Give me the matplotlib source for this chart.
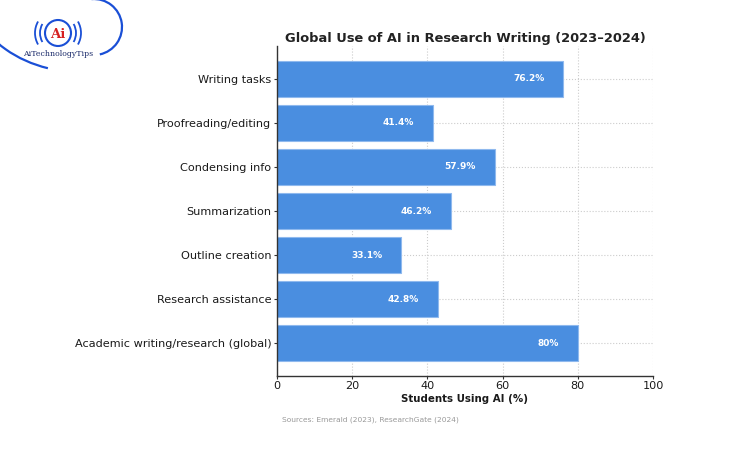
import matplotlib
matplotlib.use("Agg")
import matplotlib.pyplot as plt
from matplotlib.patches import Circle, Arc

categories = ["Writing tasks", "Proofreading/editing", "Condensing info",
              "Summarization", "Outline creation", "Research assistance",
              "Academic writing/research (global)"]
values = [76.2, 41.4, 57.9, 46.2, 33.1, 42.8, 80]
labels = ["76.2%", "41.4%", "57.9%", "46.2%", "33.1%", "42.8%", "80%"]
xticks = [0, 20, 40, 60, 80, 100]

fig = plt.figure(figsize=(7.4, 4.55), dpi=100)
ax = fig.add_axes([0.3743, 0.1745, 0.5081, 0.7235])

ypos = list(range(len(categories)))[::-1]
ax.barh(ypos, values, height=0.8, color="#4a8ee0", edgecolor="#8fb9ee", linewidth=0.8, zorder=2)
for y, v, t in zip(ypos, values, labels):
    ax.text(v - 5, y, t, ha="right", va="center", color="white",
            fontsize=6.5, fontweight="bold", zorder=3)

ax.set_yticks(ypos)
ax.set_yticklabels(categories, fontsize=8.1, color="#1a1a1a")
ax.set_xticks(xticks)
ax.set_xticklabels([str(x) for x in xticks], fontsize=8.1, color="#1a1a1a")
ax.set_xlim(0, 100)
ax.set_ylim(-0.74, 6.74)
ax.grid(True, linestyle=":", color="#cccccc", linewidth=0.8, zorder=0)
ax.set_axisbelow(True)
for s in ["top", "right"]:
    ax.spines[s].set_visible(False)
for s in ["left", "bottom"]:
    ax.spines[s].set_color("#333333")
    ax.spines[s].set_linewidth(1.0)
ax.tick_params(axis="both", colors="#333333", length=2.5, pad=1.5, labelcolor="#1a1a1a")
ax.set_xlabel("Students Using AI (%)", fontsize=7.4, fontweight="bold", color="#1a1a1a", labelpad=2)
ax.set_title("Global Use of AI in Research Writing (2023\u20132024)", fontsize=9.4,
             fontweight="bold", color="#222222", pad=3)

fig.text(282 / 740, 1 - 420 / 455, "Sources: Emerald (2023), ResearchGate (2024)",
         fontsize=5.4, color="#999999", ha="left", va="center")

# logo
lax = fig.add_axes([0, 0, 1, 1], facecolor="none")
lax.set_xlim(0, 740)
lax.set_ylim(455, 0)
lax.axis("off")
blue = "#1a4fd6"
lax.add_patch(Arc((94, 27), 56, 56, theta1=-95, theta2=78, edgecolor=blue, linewidth=1.6))
lax.add_patch(Arc((80, -20), 226, 184, theta1=110, theta2=160, edgecolor=blue, linewidth=1.6))
lax.add_patch(Circle((58, 33), 13, facecolor="white", edgecolor=blue, linewidth=1.5))
for r in (18, 23):
    lax.add_patch(Arc((58, 33), 2 * r, 2 * r, theta1=150, theta2=210, edgecolor=blue, linewidth=1.3))
    lax.add_patch(Arc((58, 33), 2 * r, 2 * r, theta1=-30, theta2=30, edgecolor=blue, linewidth=1.3))
lax.text(58, 34, "Ai", color="#d62020", fontsize=9.5, fontweight="bold", ha="center", va="center",
         family="DejaVu Serif")
lax.text(58, 54, "AiTechnologyTips", color="#1a2a6a", fontsize=5.6, ha="center", va="center",
         family="DejaVu Serif")

fig.savefig("out.png", dpi=100)
